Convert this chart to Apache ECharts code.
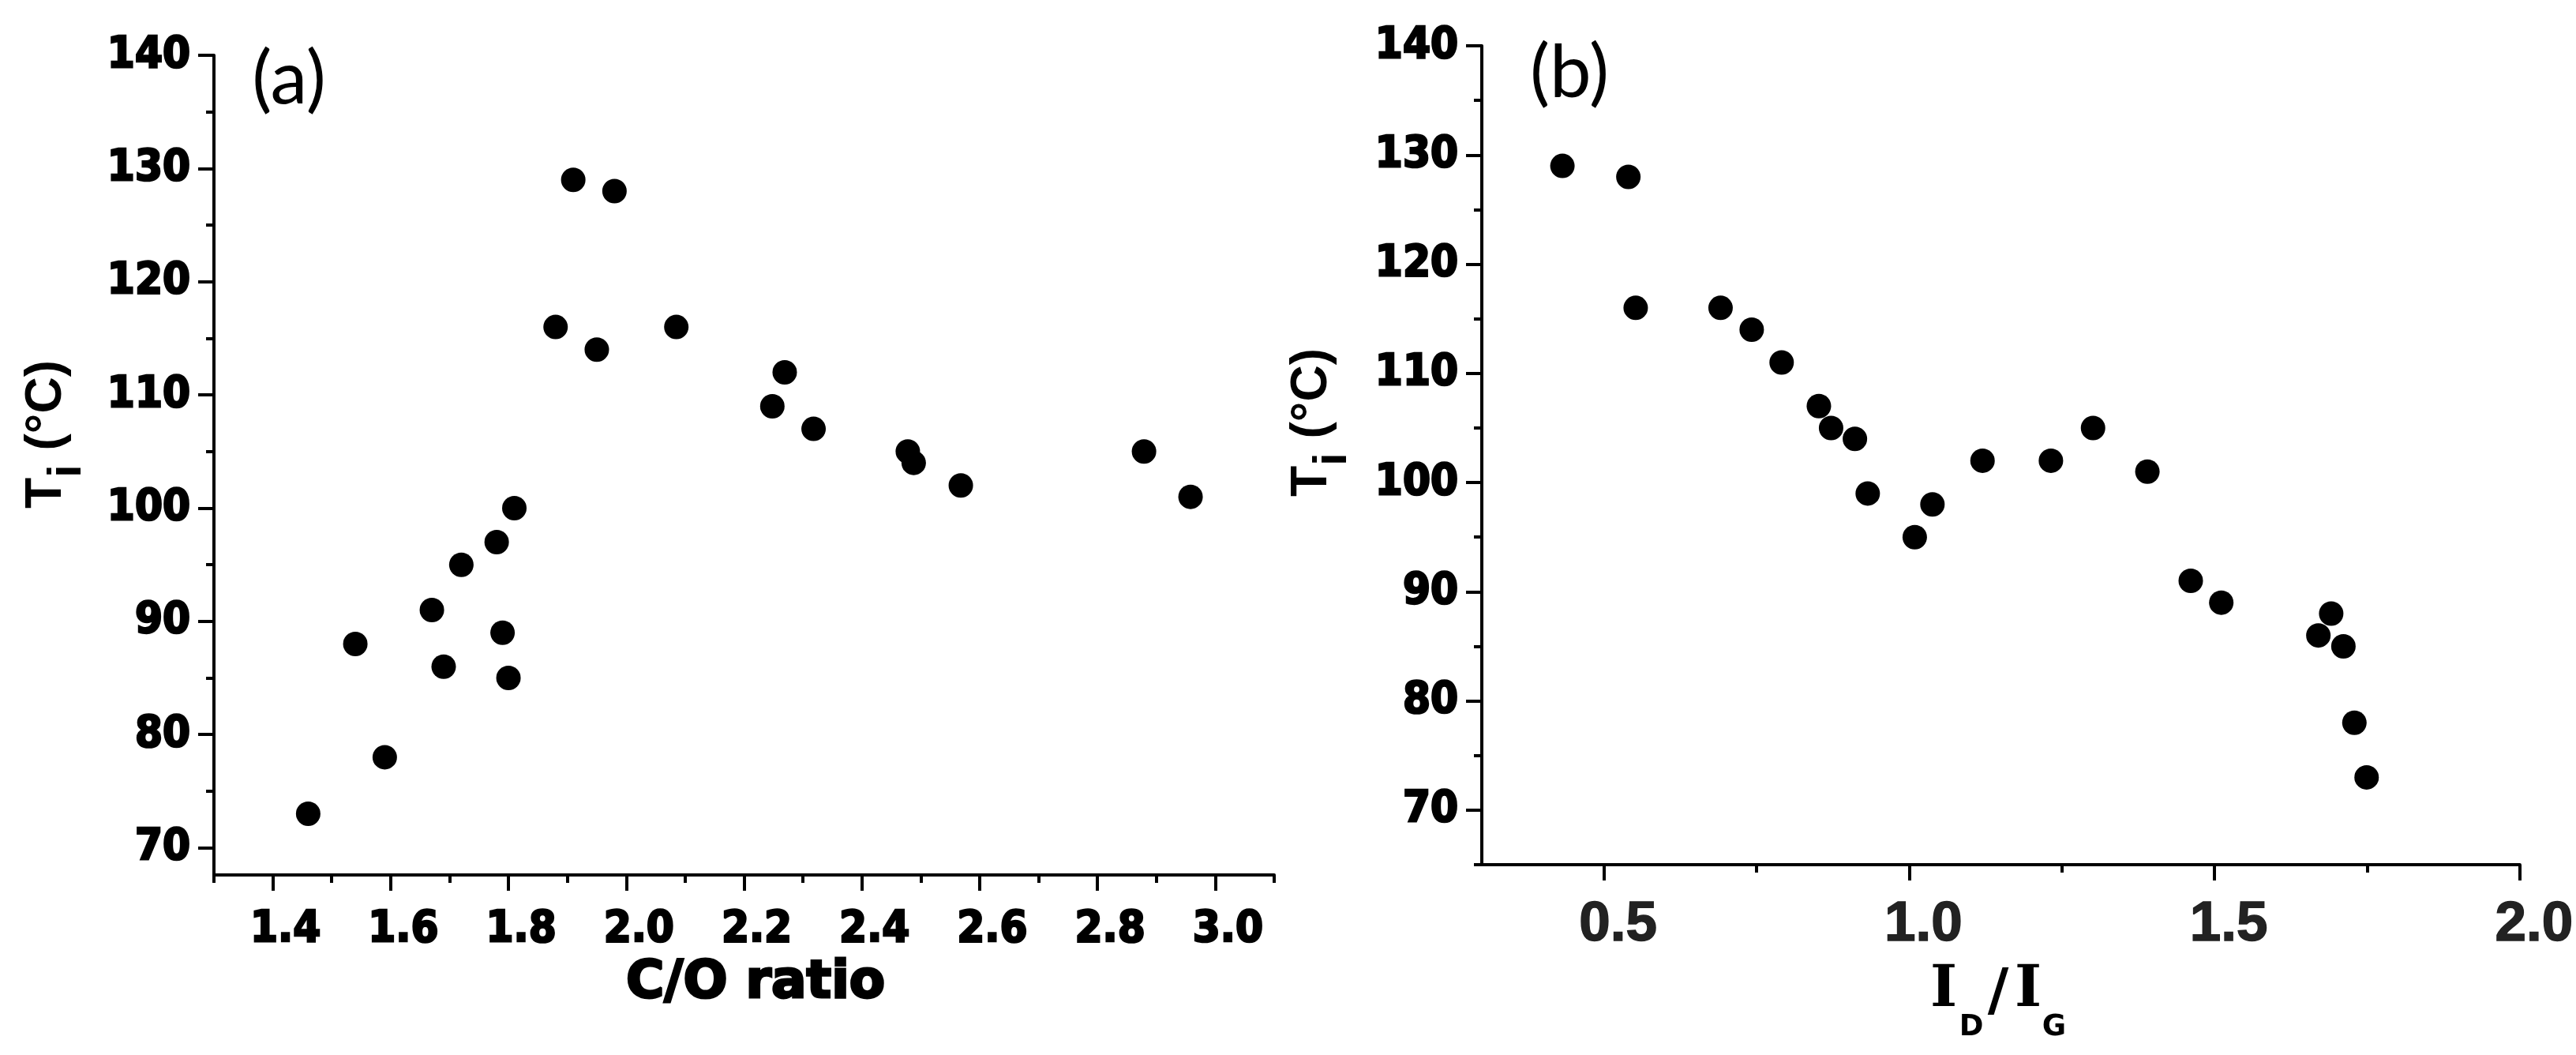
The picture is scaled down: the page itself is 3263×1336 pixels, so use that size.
<!DOCTYPE html>
<html>
<head>
<meta charset="utf-8">
<title>Ti vs C/O ratio and ID/IG</title>
<script src="https://cdn.jsdelivr.net/npm/echarts@6/dist/echarts.min.js"></script>
<style>
    html, body { margin: 0; padding: 0; background: #fff; }
    #chart { width: 3263px; height: 1336px; }
</style>
</head>
<body>
<div id="chart"></div>
<script>
// panel (a): Ti against C/O ratio
var coRatio = [1.46, 1.54, 1.59, 1.67, 1.69, 1.72, 1.78, 1.79, 1.80, 1.81, 1.88, 1.91, 1.95, 1.98,
               2.085, 2.248, 2.269, 2.318, 2.478, 2.488, 2.568, 2.879, 2.958];
var tiA = [73, 88, 78, 91, 86, 95, 97, 89, 85, 100, 116, 129, 114, 128,
           116, 109, 112, 107, 105, 104, 102, 105, 101];

// panel (b): Ti against ID/IG
var idIg = [0.432, 0.540, 0.552, 0.691, 0.742, 0.791, 0.852, 0.872, 0.911, 0.932, 1.009, 1.038,
            1.120, 1.232, 1.301, 1.390, 1.461, 1.511, 1.670, 1.691, 1.711, 1.729, 1.749];
var tiB = [129, 128, 116, 116, 114, 111, 107, 105, 104, 99, 95, 98,
           102, 102, 105, 101, 91, 89, 86, 88, 85, 78, 73];

// tick values
var coTicks = [1.4, 1.6, 1.8, 2.0, 2.2, 2.4, 2.6, 2.8, 3.0];
var coMinor = [1.3, 1.5, 1.7, 1.9, 2.1, 2.3, 2.5, 2.7, 2.9, 3.1];
var idTicks = [0.5, 1.0, 1.5, 2.0];
var idMinor = [0.75, 1.25, 1.75];
var tiTicks = [70, 80, 90, 100, 110, 120, 130, 140];
var tiMinorA = [75, 85, 95, 105, 115, 125, 135];
var tiMinorB = [65, 75, 85, 95, 105, 115, 125, 135];

function pairs(xs, ys) {
    var out = [];
    for (var i = 0; i < xs.length; i++) out.push([xs[i], ys[i]]);
    return out;
}

// one axis with long ticks + labels
function majorAxis(grid, min, max, ticks, label) {
    return {
        type: 'value', gridIndex: grid, min: min, max: max,
        splitLine: { show: false },
        axisLine: { show: true, onZero: false, lineStyle: { color: '#000', width: 4 } },
        axisTick: { show: true, customValues: ticks, length: 20, lineStyle: { color: '#000', width: 4 } },
        axisLabel: Object.assign({ customValues: ticks }, label)
    };
}
// twin axis that only draws the short ticks
function minorAxis(grid, min, max, ticks, pos) {
    return {
        type: 'value', gridIndex: grid, min: min, max: max, position: pos,
        splitLine: { show: false },
        axisLine: { show: false, onZero: false },
        axisTick: { show: true, customValues: ticks, length: 10, lineStyle: { color: '#000', width: 4 } },
        axisLabel: { show: false }
    };
}

var yLabel = {
    margin: 30, color: '#000',
    fontFamily: 'DejaVu Sans Condensed', fontWeight: 'bold', fontSize: 56,
    textBorderColor: '#000', textBorderWidth: 2.5,
    padding: [0, 0, 16, 0],
    formatter: function (v) { return String(Math.round(v)); }
};

// small helper for plain graphic text
function label(x, y, text, font) {
    return { type: 'text', x: x, y: y, style: { text: text, fill: '#000', font: font, align: 'center', verticalAlign: 'middle' } };
}

var chart = echarts.init(document.getElementById('chart'));
var option = {
    backgroundColor: '#fff',
    animation: false,
    grid: [
        { left: 271, top: 70, width: 1343, height: 1038 },
        { left: 1877, top: 58, width: 1343, height: 1037 }
    ],
    xAxis: [
        majorAxis(0, 1.3, 3.1, coTicks, {
            margin: 41, color: '#000',
            fontFamily: 'DejaVu Sans Condensed', fontWeight: 'bold', fontSize: 56,
            textBorderColor: '#000', textBorderWidth: 2.5,
            padding: [0, 0, 0, 32],
            formatter: function (v) { return v.toFixed(1); }
        }),
        minorAxis(0, 1.3, 3.1, coMinor, 'bottom'),
        majorAxis(1, 0.3, 2.0, idTicks, {
            margin: 41, color: '#222',
            fontFamily: 'Liberation Sans', fontWeight: 'bold', fontSize: 71,
            textBorderColor: '#222', textBorderWidth: 1.5,
            padding: [0, 0, 0, 36],
            formatter: function (v) { return v.toFixed(1); }
        }),
        minorAxis(1, 0.3, 2.0, idMinor, 'bottom')
    ],
    yAxis: [
        majorAxis(0, 67.6, 140, tiTicks, yLabel),
        minorAxis(0, 67.6, 140, tiMinorA, 'left'),
        majorAxis(1, 65, 140, tiTicks, yLabel),
        minorAxis(1, 65, 140, tiMinorB, 'left')
    ],
    series: [
        {
            type: 'scatter', xAxisIndex: 0, yAxisIndex: 0,
            symbol: 'circle', symbolSize: 31,
            itemStyle: { color: '#000', opacity: 1 },
            data: pairs(coRatio, tiA)
        },
        {
            type: 'scatter', xAxisIndex: 2, yAxisIndex: 2,
            symbol: 'circle', symbolSize: 31,
            itemStyle: { color: '#000', opacity: 1 },
            data: pairs(idIg, tiB)
        }
    ],
    graphic: [
        // panel tags
        label(366, 101, '(a)', '94px Lato'),
        label(1988, 93, '(b)', '94px Lato'),
        // x axis titles
        {
            type: 'text', x: 957, y: 1246,
            style: { text: 'C/O ratio', fill: '#000', font: 'bold 66px "DejaVu Sans"', align: 'center', verticalAlign: 'middle',
                     stroke: '#000', lineWidth: 3 }
        },
        // I_D / I_G, pieces placed one by one
        label(2462, 1255, 'I', 'bold 73px "DejaVu Serif"'),
        label(2497, 1301, 'D', 'bold 37px "DejaVu Sans"'),
        label(2531, 1259, '/', 'bold 73px "DejaVu Sans"'),
        label(2569, 1255, 'I', 'bold 73px "DejaVu Serif"'),
        label(2602, 1301, 'G', 'bold 37px "DejaVu Sans"'),
        // y axis titles, read bottom to top
        {
            type: 'text', x: 27, y: 550, rotation: Math.PI / 2,
            style: {
                text: '{t|T}{s|i}{t| (°C)}', fill: '#000', align: 'center', verticalAlign: 'top',
                rich: {
                    t: { fontFamily: 'Liberation Sans', fontWeight: 'bold', fontSize: 64, lineHeight: 70, verticalAlign: 'top' },
                    s: { fontFamily: 'Liberation Sans', fontWeight: 'bold', fontSize: 60, lineHeight: 60, padding: [28, 0, 0, 0], verticalAlign: 'top' }
                }
            }
        },
        {
            type: 'text', x: 1630, y: 535, rotation: Math.PI / 2,
            style: {
                text: '{t|T}{s|i}{t| (°C)}', fill: '#000', align: 'center', verticalAlign: 'top',
                rich: {
                    t: { fontFamily: 'Liberation Sans', fontWeight: 'bold', fontSize: 64, lineHeight: 70, verticalAlign: 'top' },
                    s: { fontFamily: 'Liberation Sans', fontWeight: 'bold', fontSize: 60, lineHeight: 60, padding: [28, 0, 0, 0], verticalAlign: 'top' }
                }
            }
        }
    ]
};

chart.setOption(option);
</script>
</body>
</html>
